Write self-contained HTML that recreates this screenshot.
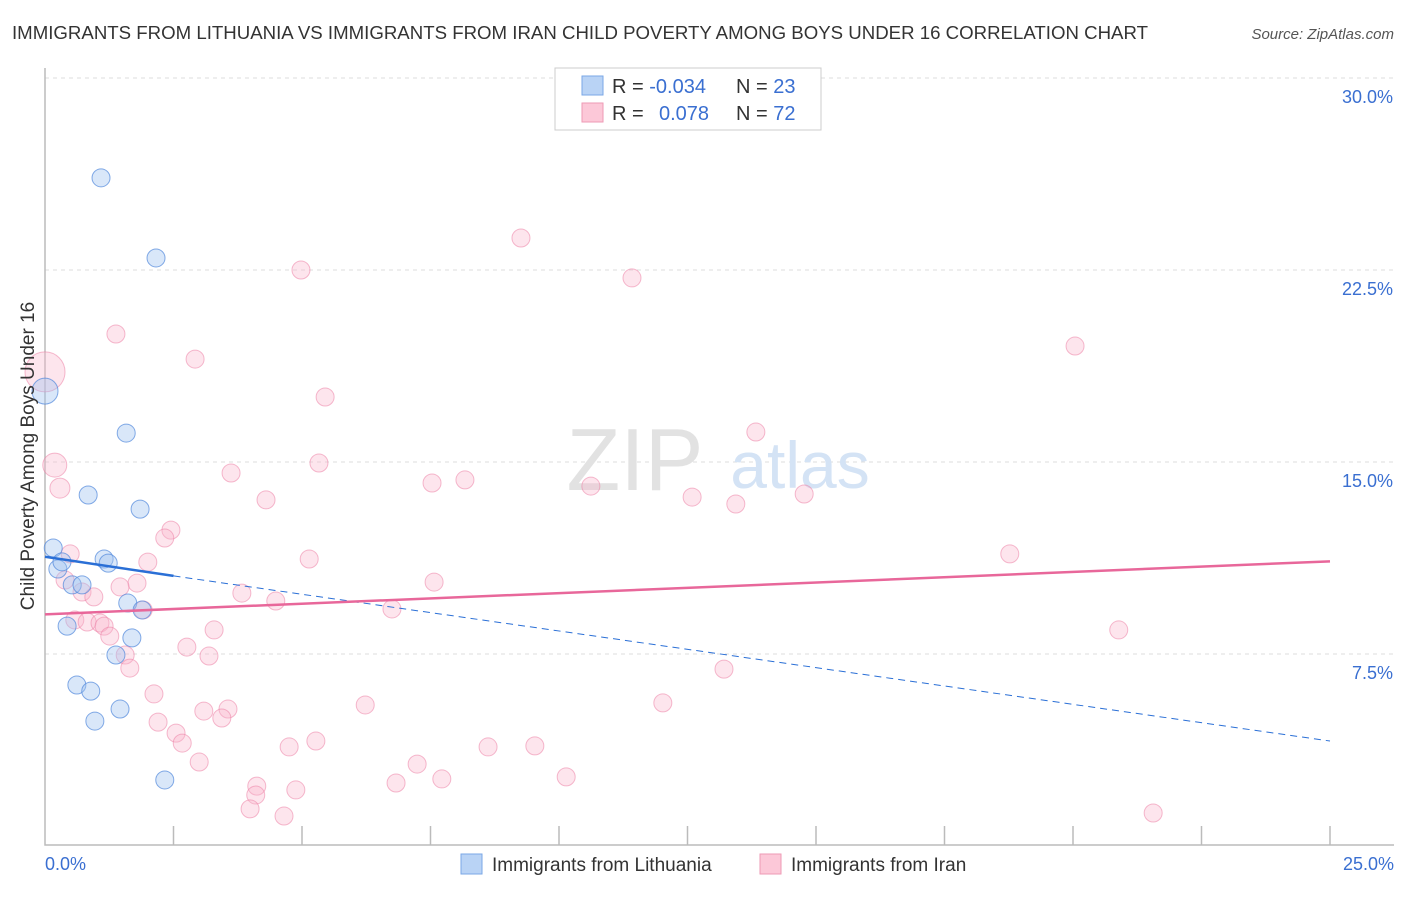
<!DOCTYPE html>
<html><head><meta charset="utf-8"><style>
body{margin:0;background:#fff;font-family:"Liberation Sans",sans-serif;}
svg text{font-family:"Liberation Sans",sans-serif;}
</style></head><body>
<svg id="c" width="1406" height="892" xmlns="http://www.w3.org/2000/svg">
<text x="12" y="39" font-size="18" fill="#333" textLength="1136" lengthAdjust="spacingAndGlyphs">IMMIGRANTS FROM LITHUANIA VS IMMIGRANTS FROM IRAN CHILD POVERTY AMONG BOYS UNDER 16 CORRELATION CHART</text>
<text x="1394" y="39" font-size="15" fill="#555" font-style="italic" text-anchor="end">Source: ZipAtlas.com</text>
<g id="grid"></g>
<text x="635" y="490" font-size="88" fill="#e2e2e2" font-family="Liberation Serif" text-anchor="middle">ZIP</text>
<text x="800" y="488" font-size="66" fill="#d4e3f5" text-anchor="middle">atlas</text>
<g id="marks"></g>
<text transform="translate(34,456) rotate(-90)" font-size="19" fill="#333" text-anchor="middle">Child Poverty Among Boys Under 16</text>
<g>
<rect x="555" y="68" width="266" height="62" fill="#fff" stroke="#ccc"/>
<rect x="582" y="76" width="21" height="19" fill="#b9d3f5" stroke="#7aa7e6"/>
<rect x="582" y="103" width="21" height="19" fill="#fcc8d8" stroke="#ee9ab5"/>
<text x="612" y="93" font-size="20" fill="#333">R = <tspan fill="#3a6fd1">-0.034</tspan></text>
<text x="736" y="93" font-size="20" fill="#333">N = <tspan fill="#3a6fd1">23</tspan></text>
<text x="612" y="120" font-size="20" fill="#333">R = <tspan fill="#3a6fd1" x="659">0.078</tspan></text>
<text x="736" y="120" font-size="20" fill="#333">N = <tspan fill="#3a6fd1">72</tspan></text>
</g>
<g>
<rect x="461" y="854" width="21" height="20" fill="#b9d3f5" stroke="#7aa7e6"/>
<text x="492" y="871" font-size="19" fill="#333">Immigrants from Lithuania</text>
<rect x="760" y="854" width="21" height="20" fill="#fcc8d8" stroke="#ee9ab5"/>
<text x="791" y="871" font-size="19" fill="#333">Immigrants from Iran</text>
</g>
</svg>
<script>
const yTicks=[7.5,15,22.5,30];
const yTickLabels=["7.5%","15.0%","22.5%","30.0%"];
const xTickLabels=["0.0%","25.0%"];
const lithX=[1.09,2.16,0,1.58,0.84,1.85,0.16,1.15,1.23,0.25,0.53,0.72,1.61,1.89,0.43,1.69,1.38,0.62,0.89,1.46,0.97,2.33,0.33];
const lithY=[26.1,22.97,17.77,16.13,13.71,13.16,11.64,11.21,11.05,10.82,10.2,10.2,9.49,9.22,8.59,8.13,7.46,6.29,6.05,5.35,4.88,2.58,11.1];
const iranX=[0,9.26,4.98,11.42,1.38,2.92,20.04,5.45,13.83,0.19,5.33,3.62,0.29,7.53,8.17,10.62,4.30,12.59,13.44,14.77,2.45,2.33,0.49,2.0,5.14,18.77,0.39,7.57,1.79,1.46,0.72,0.95,3.83,4.49,6.75,1.91,0.58,0.82,1.07,1.15,3.29,1.26,20.89,2.76,3.19,1.56,1.65,13.21,2.12,12.02,6.23,3.56,3.09,3.44,2.2,2.55,2.67,5.27,4.75,8.62,9.53,3.0,7.24,10.14,7.72,4.12,6.83,4.1,4.88,3.99,4.65,21.56];
const iranY=[18.52,23.75,22.5,22.19,20.0,19.02,19.53,17.54,16.17,14.88,14.96,14.57,13.98,14.18,14.3,14.06,13.52,13.63,13.36,13.75,12.34,12.03,11.41,11.09,11.21,11.41,10.39,10.31,10.27,10.12,9.92,9.73,9.88,9.57,9.26,9.22,8.83,8.75,8.71,8.59,8.44,8.2,8.44,7.77,7.42,7.46,6.95,6.91,5.94,5.59,5.51,5.35,5.27,5.0,4.84,4.41,4.02,4.1,3.87,3.87,3.91,3.28,3.2,2.7,2.62,2.34,2.46,1.99,2.19,1.45,1.17,1.29];
const lithTrend=[11.3,10.55,4.1];
const iranTrend=[9.05,11.12];
const X=v=>45+v*51.4, Y=v=>846-v*25.6;
const NS="http://www.w3.org/2000/svg";
function mk(tag,attrs,parent){const e=document.createElementNS(NS,tag);for(const k in attrs)e.setAttribute(k,attrs[k]);parent.appendChild(e);return e;}
const grid=document.getElementById('grid'), marks=document.getElementById('marks');
yTicks.forEach((t,i)=>{
 const l=mk('line',{x1:45,x2:1394,y1:Y(t),y2:Y(t),stroke:'#ddd','stroke-dasharray':'4 4'},grid);
 
 
 const tx=mk('text',{x:1393,y:Y(t)+25,'font-size':18,fill:'#3a6fd1','text-anchor':'end'},grid);
 tx.textContent=yTickLabels[i];
 
 
});
const ax=mk('path',{d:'M45,68V845H1394',stroke:'#bbb','stroke-width':1.5,fill:'none'},grid);


for(let i=1;i<=10;i++){
 const t=mk('line',{x1:X(i*2.5),x2:X(i*2.5),y1:826,y2:845,stroke:'#bbb','stroke-width':1.5},grid);
 
 
}
[[0,'start',45],[25,'end',1394]].forEach((p,i)=>{
 const tx=mk('text',{x:p[2],y:870,'font-size':18,fill:'#3a6fd1','text-anchor':p[1]},grid);
 tx.textContent=xTickLabels[i];
 
 
});
iranX.forEach((x,i)=>{
 const c=mk('circle',{cx:X(x),cy:Y(iranY[i]),r:i==0?20:(i==9?12:(i==12?10:9)),fill:'rgba(248,180,202,0.35)',stroke:'rgba(236,130,165,0.55)'},marks);
 
 
});
lithX.forEach((x,i)=>{
 const c=mk('circle',{cx:X(x),cy:Y(lithY[i]),r:i==2?13:9,fill:'rgba(160,195,240,0.4)',stroke:'rgba(80,135,220,0.7)'},marks);
 
 
});
const l1=mk('line',{x1:X(0),y1:Y(lithTrend[0]),x2:X(2.5),y2:Y(lithTrend[1]),stroke:'#2a6fd6','stroke-width':2.5},marks);


const l2=mk('line',{x1:X(2.5),y1:Y(lithTrend[1]),x2:X(25),y2:Y(lithTrend[2]),stroke:'#2a6fd6','stroke-width':1,'stroke-dasharray':'7 5'},marks);


const l3=mk('line',{x1:X(0),y1:Y(iranTrend[0]),x2:X(25),y2:Y(iranTrend[1]),stroke:'#e8679a','stroke-width':2.5},marks);


</script>
</body></html>
